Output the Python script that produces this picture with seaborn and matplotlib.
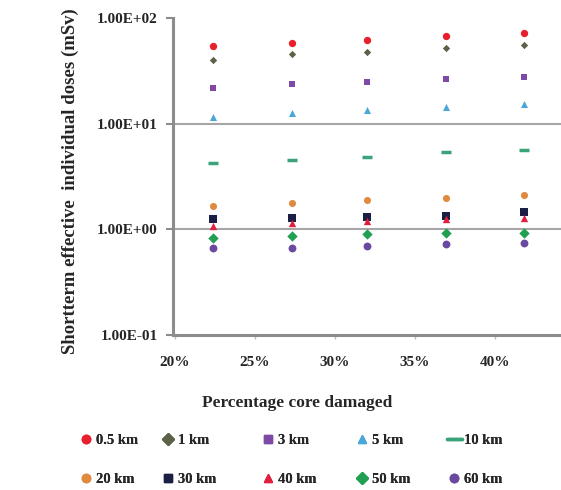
import numpy as np
import pandas as pd
import matplotlib
matplotlib.use("Agg")
import matplotlib.pyplot as plt
import seaborn as sns
from matplotlib.lines import Line2D

# ---- data ----
pct = [22.4, 27.3, 32.0, 36.9, 41.8]
series = ["0.5 km", "1 km", "3 km", "5 km", "10 km",
          "20 km", "30 km", "40 km", "50 km", "60 km"]
d_05 = [54.3, 57.7, 61.9, 67.6, 71.6]
d_1 = [40.1, 45.4, 48.0, 52.4, 55.5]
d_3 = [21.6, 23.8, 24.6, 26.5, 27.9]
d_5 = [11.6, 12.5, 13.5, 14.3, 15.4]
d_10 = [4.22, 4.54, 4.88, 5.36, 5.64]
d_20 = [1.68, 1.78, 1.90, 1.97, 2.11]
d_30 = [1.25, 1.27, 1.32, 1.34, 1.47]
d_40 = [1.08, 1.15, 1.21, 1.25, 1.29]
d_50 = [0.83, 0.86, 0.90, 0.92, 0.93]
d_60 = [0.67, 0.67, 0.69, 0.73, 0.75]
values = [d_05, d_1, d_3, d_5, d_10, d_20, d_30, d_40, d_50, d_60]
xtick_vals = [20, 25, 30, 35, 40]
xtick_labels = ["20%", "25%", "30%", "35%", "40%"]
ytick_vals = [0.1, 1, 10, 100]
ytick_labels = ["1.00E-01", "1.00E+00", "1.00E+01", "1.00E+02"]

colors = ["#e8202e", "#5a6248", "#7d4aa5", "#4aa8d8", "#3aa37a",
          "#e08a40", "#1c1f45", "#e0203c", "#20a050", "#6a4aa0"]
markers = ["o", "D", "s", "^", "_", "o", "s", "^", "D", "o"]
sizes = [28, 14, 24, 26, 55, 26, 30, 28, 28, 32]

rows = []
for s, vals in zip(series, values):
    for x, v in zip(pct, vals):
        rows.append({"pct": x, "dose": v, "dist": s})
df = pd.DataFrame(rows)

sns.set_style("white")
plt.rcParams["font.family"] = ["Liberation Serif", "DejaVu Serif"]
plt.rcParams["font.weight"] = "bold"

fig = plt.figure(figsize=(5.61, 4.90), dpi=100)
ax = fig.add_axes([173 / 561, 1 - 335 / 490, 1 - 173 / 561, (335 - 18) / 490])

for s, c, m, sz in zip(series, colors, markers, sizes):
    sub = df[df["dist"] == s]
    kw = dict(linewidth=2.5) if m == "_" else dict(linewidth=0)
    sns.scatterplot(data=sub, x="pct", y="dose", ax=ax, color=c, marker=m,
                    s=sz, edgecolor=c, legend=False, zorder=3, **kw)

ax.set_yscale("log")
ax.set_ylim(0.1, 100)
ax.set_xlim(19.9, 44.1)
ax.set_yticks(ytick_vals)
ax.set_yticklabels(ytick_labels)
ax.minorticks_off()
ax.set_xticks(xtick_vals)
ax.set_xticklabels(xtick_labels)
ax.set_xlabel("")
ax.set_ylabel("Shortterm effective  individual doses (mSv)", fontsize=13.5,
              fontweight="bold")
ax.yaxis.set_label_coords(-(173 - 79) / 388, 0.486)

for v in [1, 10]:
    ax.axhline(v, color="#a6a6a6", linewidth=1.5, zorder=1)

for sp in ["top", "right"]:
    ax.spines[sp].set_visible(False)
ax.spines["left"].set_color("#8c8c8c")
ax.spines["left"].set_linewidth(2.2)
ax.spines["bottom"].set_color("#8c8c8c")
ax.spines["bottom"].set_linewidth(2.2)

ax.tick_params(axis="y", which="major", length=5, width=1.5, color="#8c8c8c",
               pad=6, labelsize=11, left=True)
ax.tick_params(axis="x", which="major", length=3, width=1, color="#bbbbbb",
               pad=12, labelsize=11, bottom=True, direction="out")
for lbl in ax.get_yticklabels() + ax.get_xticklabels():
    lbl.set_fontweight("bold")
ytl = ax.yaxis.get_major_ticks()
for t, v in zip(ytl, ytick_vals):
    if v in (1, 100):
        t.tick1line.set_color("#4a7fc8")

fig.text(297 / 561, 1 - 403 / 490, "Percentage core damaged", ha="center",
         va="center", fontsize=12.5, fontweight="bold")

handles = []
for s, c, m in zip(series, colors, markers):
    if m == "_":
        h = Line2D([], [], color=c, linewidth=2.5, label=s)
    else:
        h = Line2D([], [], color=c, marker=m, linestyle="none", markersize=6,
                   markeredgecolor=c, label=s)
    handles.append(h)

col_x = [86, 168, 268, 362, 454]
for i, cx in enumerate(col_x):
    pair = [handles[i], handles[i + 5]]
    leg = fig.legend(handles=pair, labels=[h.get_label() for h in pair],
                     ncol=1, loc="center left",
                     bbox_to_anchor=((cx - 7) / 561, 1 - 460 / 490),
                     frameon=False, prop={"weight": "bold", "size": 10.5},
                     handlelength=1.0, handletextpad=0.2,
                     labelspacing=1.75, borderaxespad=0, borderpad=0)
    fig.add_artist(leg)

fig.savefig("out.png", dpi=100)
